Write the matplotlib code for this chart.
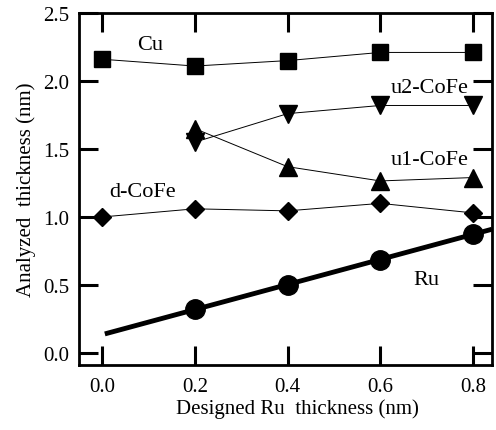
import matplotlib
matplotlib.use("Agg")
import matplotlib.pyplot as plt

plt.rcParams['font.family'] = ['Liberation Serif', 'DejaVu Serif']

x = [0.0, 0.2, 0.4, 0.6, 0.8]
cu = [2.16, 2.11, 2.15, 2.21, 2.21]
d_cofe = [1.00, 1.06, 1.045, 1.10, 1.03]
x_u = [0.2, 0.4, 0.6, 0.8]
u2_cofe = [1.55, 1.76, 1.82, 1.82]
u1_cofe = [1.65, 1.37, 1.265, 1.29]
x_ru = [0.2, 0.4, 0.6, 0.8]
ru = [0.32, 0.50, 0.685, 0.875]
ru_fit_x = [0.006, 0.841]
ru_fit_y = [0.14, 0.91]

xticks = [0.0, 0.2, 0.4, 0.6, 0.8]
yticks = [0.0, 0.5, 1.0, 1.5, 2.0, 2.5]

fig = plt.figure(figsize=(4.96, 4.31), dpi=100)
ax = fig.add_axes([0.159, 0.151, 0.833, 0.8165])

lw_thin = 0.7
ax.plot(x, cu, '-', color='black', lw=lw_thin, marker='s', ms=11, mfc='black', mec='black')
ax.plot(x, d_cofe, '-', color='black', lw=lw_thin, marker='D', ms=9, mfc='black', mec='black')
ax.plot(x_u, u2_cofe, '-', color='black', lw=lw_thin, marker='v', ms=13, mfc='black', mec='black')
ax.plot(x_u, u1_cofe, '-', color='black', lw=lw_thin, marker='^', ms=13, mfc='black', mec='black')
ax.plot(ru_fit_x, ru_fit_y, '-', color='black', lw=3.5, solid_capstyle='butt')
ax.plot(x_ru, ru, 'o', ms=14, mfc='black', mec='black')

ax.set_xlim(-0.05, 0.841)
ax.set_ylim(-0.088, 2.5)
ax.set_xticks(xticks)
ax.set_yticks(yticks)
ax.set_xticklabels([f"{v:.1f}" for v in xticks])
ax.set_yticklabels([f"{v:.1f}" for v in yticks])

for s in ax.spines.values():
    s.set_linewidth(2)
ax.tick_params(direction='in', length=14, width=2.2, top=True, right=True,
               labelsize=15, pad=7)
ax.tick_params(axis='x', pad=9)

ax.set_xlabel("Designed Ru  thickness (nm)", fontsize=15, labelpad=1)
ax.xaxis.set_label_coords(0.528, -0.095)
ax.set_ylabel("Analyzed  thickness (nm)", fontsize=15, labelpad=5)

fs = 16
ax.text(0.104, 2.27, "Cu", fontsize=fs, ha='center', va='center')
ax.text(0.088, 1.19, "d-CoFe", fontsize=fs, ha='center', va='center')
ax.text(0.706, 1.955, "u2-CoFe", fontsize=fs, ha='center', va='center')
ax.text(0.706, 1.42, "u1-CoFe", fontsize=fs, ha='center', va='center')
ax.text(0.70, 0.54, "Ru", fontsize=fs, ha='center', va='center')

fig.savefig("out.png", dpi=100)
